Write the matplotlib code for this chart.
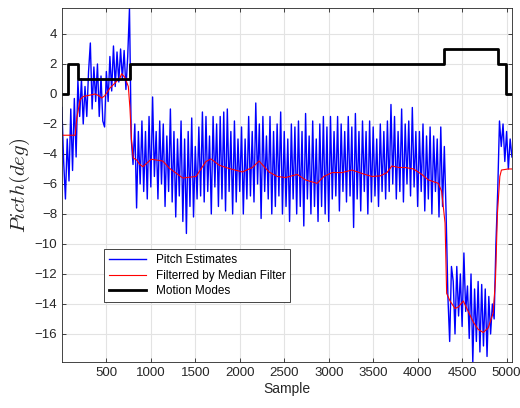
import matplotlib
matplotlib.use('Agg')
import matplotlib.pyplot as plt
import numpy as np

plt.rcParams['font.family'] = ['Liberation Sans', 'DejaVu Sans']
plt.rcParams['mathtext.fontset'] = 'cm'

# raw pitch estimates, one value every 20 samples
pitch_step = 20
pitch = [
    -0.9, -4.5, -7.0, -3.0, -5.8, -1.0, -5.1, -0.3, -4.2, 0.9,
    -1.5, 1.0, -2.0, 0.5, -1.5, 1.5, 3.4, -1.0, 1.8, -0.5,
    2.0, -1.5, 1.2, -1.8, -2.2, 1.5, -0.5, 2.5, 0.2, 3.2,
    0.5, 2.8, 0.8, 3.0, 1.0, 2.9, 0.3, 2.5, 5.7, -3.0,
    -4.7, -2.0, -7.6, -2.5, -6.0, -1.8, -6.5, -2.5, -7.0, -1.5,
    -6.2, -0.2, -5.5, -2.5, -7.0, -1.8, -6.0, -2.0, -7.5, -2.8,
    -6.5, -1.0, -7.2, -2.5, -8.2, -3.0, -6.8, -1.8, -8.5, -3.0,
    -9.3, -2.5, -7.5, -1.6, -8.2, -3.5, -7.0, -2.2, -6.8, -1.2,
    -7.2, -1.5, -6.5, -2.8, -8.0, -1.5, -6.2, -2.0, -7.5, -1.5,
    -7.0, -1.2, -7.8, -1.0, -6.5, -2.5, -8.0, -1.8, -7.2, -3.0,
    -6.5, -2.2, -8.0, -3.0, -7.0, -1.5, -6.8, -2.5, -7.2, -0.6,
    -6.0, -2.0, -8.3, -1.5, -6.5, -2.8, -7.0, -1.5, -8.0, -2.5,
    -7.5, -2.0, -6.8, -1.2, -8.0, -2.5, -7.5, -3.0, -8.5, -2.0,
    -7.0, -2.2, -8.0, -1.8, -7.5, -2.5, -8.8, -1.3, -7.0, -2.8,
    -8.0, -1.8, -7.5, -3.0, -8.5, -2.0, -7.5, -1.5, -8.0, -2.2,
    -8.5, -1.5, -7.0, -2.5, -6.8, -1.5, -7.8, -2.0, -6.5, -2.5,
    -7.2, -1.5, -6.8, -2.2, -8.9, -1.3, -7.0, -2.5, -7.8, -1.8,
    -6.5, -2.5, -8.0, -1.8, -7.2, -2.2, -6.8, -3.0, -7.5, -2.0,
    -6.5, -2.5, -7.0, -1.8, -6.5, -0.7, -6.0, -1.5, -7.0, -2.5,
    -6.5, -1.0, -7.2, -2.0, -6.0, -1.8, -6.8, -0.9, -6.2, -2.5,
    -7.5, -2.5, -6.5, -2.0, -7.8, -2.8, -7.0, -2.2, -8.0, -2.8,
    -6.5, -3.0, -8.2, -2.2, -7.5, -3.5, -8.0, -13.5, -16.5, -11.5,
    -12.5, -16.0, -11.5, -14.8, -12.0, -15.5, -10.6, -14.5, -12.8, -16.3,
    -12.0, -17.9, -13.0, -16.5, -12.5, -17.2, -12.7, -16.8, -13.0, -17.5,
    -13.5, -16.0, -14.0, -15.0, -10.0, -6.5, -1.8, -3.5, -2.0, -4.5,
    -2.5, -5.0, -3.0, -4.2,
]

# median filtered pitch (sample, value)
filt_x = [0, 149, 168, 205, 243, 299, 373, 411, 448, 485, 541, 597, 653, 672,
          709, 747, 765, 784, 803, 840, 877, 911, 1004, 1135, 1209, 1359, 1508,
          1620, 1676, 1769, 1881, 2030, 2142, 2217, 2329, 2422, 2516, 2646,
          2740, 2777, 2870, 2945, 3038, 3150, 3262, 3374, 3486, 3580, 3655,
          3710, 3785, 3860, 3953, 4046, 4121, 4233, 4270, 4308, 4326, 4364,
          4420, 4457, 4513, 4569, 4625, 4681, 4737, 4793, 4849, 4875, 4897,
          4924, 4942, 5017, 5060]
filt_y = [-2.75, -2.75, -1.6, -0.38, -0.16, -0.1, 0.0, -0.1, -0.27, -0.1, 0.4,
          0.73, 1.07, 1.35, 1.1, 0.5, -0.93, -3.16, -4.27, -4.4, -4.7, -4.85,
          -4.35, -4.47, -4.95, -5.6, -5.5, -4.5, -4.33, -4.75, -4.97, -5.2,
          -4.9, -4.47, -5.2, -5.5, -5.57, -5.36, -5.73, -5.8, -5.96, -5.5,
          -5.24, -5.24, -5.07, -5.3, -5.5, -5.46, -5.24, -4.8, -4.9, -4.9,
          -5.0, -5.36, -5.73, -5.96, -6.5, -8.6, -13.3, -13.8, -14.3, -14.2,
          -13.8, -14.5, -15.2, -15.7, -15.9, -15.6, -14.6, -12.4, -7.96, -5.5,
          -5.07, -5.0, -5.0]

# motion mode changes
mode_x = [0, 70, 176, 761, 4300, 4908, 4991, 5060]
mode_y = [0, 2, 1, 2, 3, 2, 0, 0]

pitch_x = np.arange(len(pitch)) * pitch_step

fig = plt.figure(figsize=(5.2, 4.08), dpi=100)
ax = fig.add_axes([0.119, 0.1127, 0.8648, 0.8676])

ax.plot(pitch_x, pitch, color=(0, 0, 1), lw=1.0, label='Pitch Estimates')
ax.plot(filt_x, filt_y, color=(1, 0, 0), lw=0.8, label='Filterred by Median Filter')
ax.plot(mode_x, mode_y, color='k', lw=2, drawstyle='steps-post', label='Motion Modes')

ax.set_xlim(0, 5056)
ax.set_ylim(-17.87, 5.73)
ax.set_xticks(np.arange(500, 5001, 500))
ax.set_yticks(np.arange(-16, 5, 2))
ax.grid(True, color='#e3e3e3', lw=0.8)
ax.set_axisbelow(True)
ax.tick_params(direction='in', top=True, right=True, labelsize=9.5,
               colors='#262626', length=3, width=0.6)
for s in ax.spines.values():
    s.set_color('#262626')
    s.set_linewidth(0.6)

ax.set_xlabel('Sample', fontsize=10, color='#262626', labelpad=2)
ax.set_ylabel(r'$Picth(deg)$', fontsize=15, color='#262626', labelpad=2)

leg = ax.legend(loc='lower left', bbox_to_anchor=(0.0934, 0.1695), borderaxespad=0,
                fontsize=8.5, fancybox=False, framealpha=1, edgecolor='#262626',
                handlelength=3.2, labelspacing=0.3, borderpad=0.4)
leg.get_frame().set_linewidth(0.6)

fig.savefig('out.png', dpi=100)
